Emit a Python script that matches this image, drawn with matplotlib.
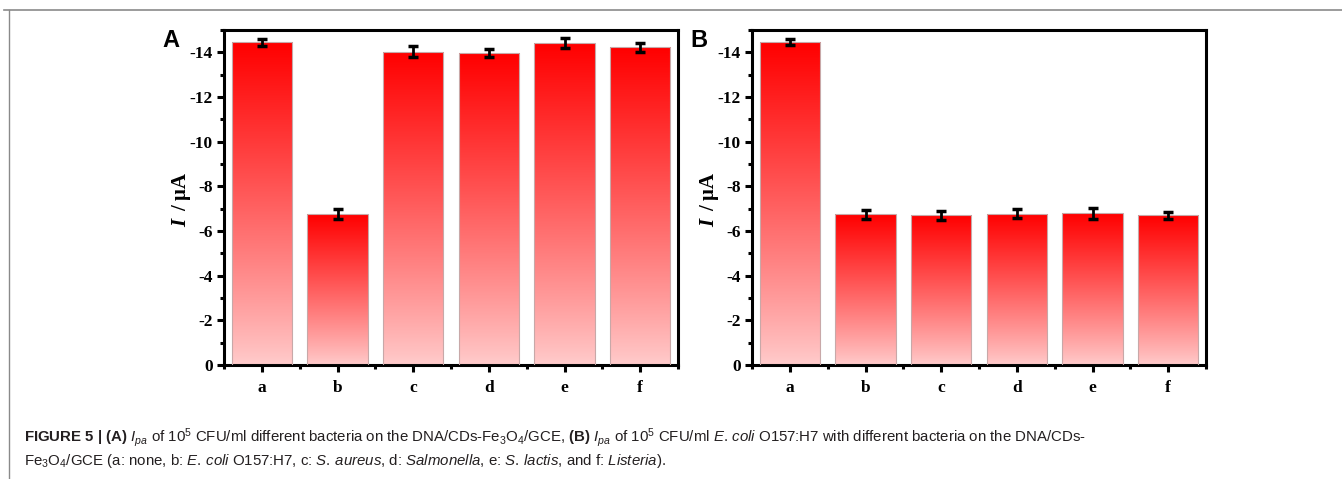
import numpy as np
import matplotlib
matplotlib.use("Agg")
import matplotlib.pyplot as plt
from matplotlib.lines import Line2D
from matplotlib.ticker import MultipleLocator, FixedLocator

serif = "Liberation Serif"
sans = "Liberation Sans"

plt.rcParams["axes.unicode_minus"] = False
plt.rcParams["font.family"] = serif
plt.rcParams["font.weight"] = "bold"
plt.rcParams["mathtext.fontset"] = "custom"
plt.rcParams["mathtext.rm"] = sans + ":style=normal:weight=normal"
plt.rcParams["mathtext.it"] = sans + ":style=italic:weight=normal"
plt.rcParams["mathtext.bf"] = sans + ":style=normal:weight=bold"

labels = ["a", "b", "c", "d", "e", "f"]
current_a = [-14.45, -6.75, -14.02, -13.95, -14.40, -14.22]
err_a = [0.15, 0.22, 0.25, 0.18, 0.22, 0.20]
current_b = [-14.45, -6.75, -6.70, -6.78, -6.80, -6.70]
err_b = [0.13, 0.20, 0.20, 0.22, 0.25, 0.16]

fig = plt.figure(figsize=(13.42, 4.79), dpi=100)

top_c = np.array([1.0, 0.0, 0.0])
bot_c = np.array([1.0, 0.80, 0.80])
grad = np.linspace(0, 1, 256)[:, None, None] ** 0.9
grad_img = bot_c * (1 - grad) + top_c * grad  # row 0 = bottom (pink)


def panel(rect, vals, errs, tag):
    ax = fig.add_axes(rect)
    x = np.arange(len(labels))
    bars = ax.bar(x, vals, width=0.8, facecolor="none", edgecolor="#c8a8a8",
                  linewidth=0.8, zorder=3)
    for b, v in zip(bars, vals):
        l = b.get_x()
        im = ax.imshow(grad_img, extent=[l, l + b.get_width(), 0, v],
                       origin="lower", aspect="auto", zorder=2)
        im.set_clip_path(b)
    ax.errorbar(x, vals, yerr=errs, fmt="none", ecolor="black", elinewidth=2,
                capsize=3.5, capthick=2.5, zorder=4)
    ax.set_xlim(-0.5, 5.5)
    ax.set_ylim(0, -15)
    ax.set_xticks(x)
    ax.set_xticklabels(labels)
    ax.xaxis.set_minor_locator(FixedLocator(np.arange(-0.5, 6, 1)))
    ax.set_yticks(np.arange(0, -15, -2))
    ax.set_yticklabels([str(t) for t in range(0, -15, -2)])
    ax.yaxis.set_minor_locator(MultipleLocator(1))
    ax.tick_params(which="major", direction="out", length=5, width=2.2,
                   pad=3, labelsize=12.5, labelfontfamily=serif)
    ax.tick_params(which="minor", direction="out", length=3, width=2.2)
    ax.tick_params(axis="x", which="major", pad=6)
    for s in ax.spines.values():
        s.set_linewidth(2.2)
    ax.text(-0.094, 0.425, "I", transform=ax.transAxes, rotation=90,
            fontfamily=serif, fontstyle="italic", fontweight="bold",
            fontsize=15, ha="center", va="center")
    ax.text(-0.094, 0.515, "/ \u03bcA", transform=ax.transAxes, rotation=90,
            fontfamily=serif, fontweight="bold", fontsize=15,
            ha="center", va="center")
    ax.text(-0.135, 0.97, tag, transform=ax.transAxes, fontfamily=sans,
            fontweight="bold", fontsize=17, ha="left", va="center")
    return ax


panel([224 / 1342, 114 / 479, 454 / 1342, 335 / 479], current_a, err_a, "A")
panel([752 / 1342, 114 / 479, 454 / 1342, 335 / 479], current_b, err_b, "B")

# frame lines of the journal figure box
fig.add_artist(Line2D([4 / 1342, 1], [1 - 10 / 479, 1 - 10 / 479],
                      color="#8a8a8a", linewidth=1.2, transform=fig.transFigure))
fig.add_artist(Line2D([9 / 1342, 9 / 1342], [0, 1 - 10 / 479],
                      color="#8a8a8a", linewidth=1.0, transform=fig.transFigure))

line1 = (r"$\mathbf{FIGURE\ 5\ |\ (A)}$ $\mathit{I}_{\mathit{pa}}$ of 10$^5$ CFU/ml "
         r"different bacteria on the DNA/CDs-Fe$_3$O$_4$/GCE, $\mathbf{(B)}$ "
         r"$\mathit{I}_{\mathit{pa}}$ of 10$^5$ CFU/ml $\mathit{E.\,coli}$ O157:H7 "
         r"with different bacteria on the DNA/CDs-")
line2 = (r"Fe$_3$O$_4$/GCE (a: none, b: $\mathit{E.\,coli}$ O157:H7, c: "
         r"$\mathit{S.\,aureus}$, d: $\mathit{Salmonella}$, e: $\mathit{S.\,lactis}$, "
         r"and f: $\mathit{Listeria}$).")
fig.text(24 / 1342, 1 - 438 / 479, line1, fontsize=10.8, ha="left", va="center",
         color="#231f20", fontfamily=sans, fontweight="normal")
fig.text(24 / 1342, 1 - 461 / 479, line2, fontsize=10.8, ha="left", va="center",
         color="#231f20", fontfamily=sans, fontweight="normal")

fig.savefig("out.png", dpi=100)
